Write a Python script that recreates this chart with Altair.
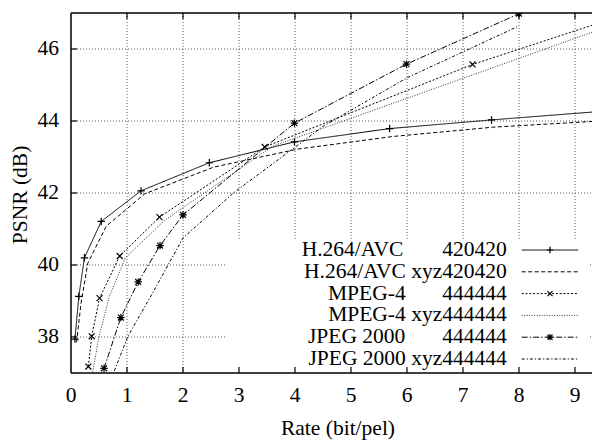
import altair as alt
import pandas as pd

# ---------------- data ----------------
series_names = [
    "H.264/AVC 420420",
    "H.264/AVC xyz420420",
    "MPEG-4 444444",
    "MPEG-4 xyz444444",
    "JPEG 2000 444444",
    "JPEG 2000 xyz444444",
]

h264_rate = [0.07, 0.14, 0.24, 0.54, 1.25, 2.47, 3.99, 5.69, 7.51, 9.9]
h264_psnr = [37.94, 39.13, 40.2, 41.21, 42.06, 42.84, 43.42, 43.79, 44.03, 44.32]

h264x_rate = [0.1, 0.18, 0.3, 0.63, 1.32, 2.55, 4.05, 5.75, 7.55, 9.9]
h264x_psnr = [37.85, 38.95, 40.05, 41.08, 41.98, 42.72, 43.22, 43.57, 43.83, 44.04]

mpeg4_rate = [0.31, 0.37, 0.51, 0.87, 1.58, 3.46, 7.17, 10.5]
mpeg4_psnr = [37.18, 38.02, 39.08, 40.25, 41.33, 43.28, 45.57, 47.27]

mpeg4x_rate = [0.37, 0.5, 0.68, 0.97, 1.68, 3.6, 10.0]
mpeg4x_psnr = [36.9, 38.0, 39.1, 40.2, 41.25, 43.3, 46.85]

jpeg_rate = [0.59, 0.89, 1.2, 1.59, 2.0, 3.99, 5.99, 8.0]
jpeg_psnr = [37.13, 38.54, 39.53, 40.54, 41.39, 43.94, 45.58, 46.98]

jpegx_rate = [0.72, 1.02, 1.46, 2.0, 2.9, 4.5, 6.0, 8.0]
jpegx_psnr = [36.85, 38.03, 39.23, 40.75, 42.0, 43.85, 45.2, 46.64]

x_ticks = [0, 1, 2, 3, 4, 5, 6, 7, 8, 9]
y_ticks = [38, 40, 42, 44, 46]

x_title = "Rate (bit/pel)"
y_title = "PSNR (dB)"

legend_prefix = ["H.264/AVC", "", "MPEG-4", "", "JPEG 2000", ""]
legend_suffix = ["420420", "H.264/AVC xyz420420", "444444", "MPEG-4 xyz444444",
                 "444444", "JPEG 2000 xyz444444"]

# ---------------- layout constants ----------------
W, H = 521, 360
PX_PER_X = 56.0
PX_PER_Y = 36.0
X_MAX = W / PX_PER_X
Y_MIN, Y_MAX = 37, 47
FONT = "Liberation Serif"
FS = 21.5

def px_to_x(px):  # page px -> rate
    return (px - 71.0) / PX_PER_X

def py_to_y(py):  # page py -> psnr
    return Y_MAX - (py - 13.0) / PX_PER_Y

# ---------------- tables ----------------
rows = []
for name, xs, ys in zip(series_names,
                        [h264_rate, h264x_rate, mpeg4_rate, mpeg4x_rate, jpeg_rate, jpegx_rate],
                        [h264_psnr, h264x_psnr, mpeg4_psnr, mpeg4x_psnr, jpeg_psnr, jpegx_psnr]):
    for i, (a, b) in enumerate(zip(xs, ys)):
        rows.append({"series": name, "rate": a, "psnr": b, "order": i})
df = pd.DataFrame(rows)

marker_series = ["H.264/AVC 420420", "MPEG-4 444444", "JPEG 2000 444444"]
plus = "M-1,0L1,0M0,-1L0,1"
cross = "M-0.8,-0.8L0.8,0.8M-0.8,0.8L0.8,-0.8"
star = plus + cross
df_pts = df[df["series"].isin(marker_series)]

prefix_start_px = {"H.264/AVC": 301.7, "MPEG-4": 328.0, "JPEG 2000": 308.0}
leg = pd.DataFrame({
    "series": series_names,
    "prefix": legend_prefix,
    "suffix": legend_suffix,
})
leg["psnr"] = [py_to_y(250 + 21.8 * i) for i in range(len(leg))]
leg["rate_text"] = px_to_x(506.7)
leg["rate_pre"] = [px_to_x(prefix_start_px[p]) if p else 0 for p in legend_prefix]
leg["rate"] = px_to_x(521.7)
leg["rate2"] = px_to_x(578.3)
leg["rate_mid"] = px_to_x(550.0)
leg_pts = leg[leg["series"].isin(marker_series)]
leg_pre = leg[leg["prefix"] != ""]

box = pd.DataFrame({"rate": [px_to_x(225)], "rate2": [px_to_x(589)],
                    "psnr": [Y_MIN], "psnr2": [py_to_y(240)]})

# ---------------- scales / encodings ----------------
xscale = alt.Scale(domain=[0, X_MAX], nice=False, zero=False)
yscale = alt.Scale(domain=[Y_MIN, Y_MAX], nice=False, zero=False)

def X(f="rate"):
    return alt.X(f"{f}:Q", scale=xscale, axis=None)

def Y(f="psnr"):
    return alt.Y(f"{f}:Q", scale=yscale, axis=None)

color = alt.Color("series:N", scale=alt.Scale(
    domain=series_names,
    range=["#000000", "#000000", "#000000", "#333333", "#000000", "#000000"]), legend=None)
dash = alt.StrokeDash("series:N", scale=alt.Scale(
    domain=series_names,
    range=[[1, 0], [4, 2.5], [2, 1.8], [1, 1.5], [6, 2, 1.5, 2], [3, 2, 1.2, 2]]), legend=None)
shape = alt.Shape("series:N", scale=alt.Scale(domain=marker_series,
                                              range=[plus, cross, star]), legend=None)

# dotted grid
gx = pd.DataFrame({"rate": x_ticks[1:]})
gy = pd.DataFrame({"psnr": y_ticks})
grid_x = alt.Chart(gx).mark_rule(color="#555", strokeWidth=1, strokeDash=[1, 2]).encode(
    x=X(), y=alt.value(0), y2=alt.value(H))
grid_y = alt.Chart(gy).mark_rule(color="#555", strokeWidth=1, strokeDash=[1, 2]).encode(
    y=Y(), x=alt.value(0), x2=alt.value(W))

lines = alt.Chart(df).mark_line(clip=True, strokeWidth=1).encode(
    x=X(), y=Y(), color=color, strokeDash=dash, order="order:Q")

points = alt.Chart(df_pts).mark_point(clip=True, filled=False, size=55, strokeWidth=1.2,
                                      color="black", opacity=1).encode(
    x=X(), y=Y(), shape=shape)

box_layer = alt.Chart(box).mark_rect(color="white").encode(
    x=X(), x2="rate2:Q", y=Y(), y2="psnr2:Q")

leg_lines = alt.Chart(leg).mark_rule(strokeWidth=1).encode(
    x=X(), x2="rate2:Q", y=Y(), color=color, strokeDash=dash)
leg_marks = alt.Chart(leg_pts).mark_point(filled=False, size=40, strokeWidth=1.2,
                                          color="black", opacity=1).encode(
    x=X("rate_mid"), y=Y(), shape=shape)
leg_suffix = alt.Chart(leg).mark_text(align="right", baseline="middle", font=FONT,
                                      fontSize=FS, color="black").encode(
    x=X("rate_text"), y=Y(), text="suffix:N")
leg_prefix = alt.Chart(leg_pre).mark_text(align="left", baseline="middle", font=FONT,
                                          fontSize=FS, color="black").encode(
    x=X("rate_pre"), y=Y(), text="prefix:N")

# tick labels and axis titles as text
xt_lab = pd.DataFrame({"rate": x_ticks, "lab": [str(v) for v in x_ticks]})
yt_lab = pd.DataFrame({"psnr": y_ticks, "lab": [str(v) for v in y_ticks]})
x_labels = alt.Chart(xt_lab).mark_text(align="center", baseline="alphabetic", font=FONT,
                                       fontSize=FS, color="black").encode(
    x=X(), y=alt.value(H + 29), text="lab:N")
y_labels = alt.Chart(yt_lab).mark_text(align="right", baseline="middle", font=FONT,
                                       fontSize=FS, color="black").encode(
    y=Y(), x=alt.value(-12), text="lab:N")
one = pd.DataFrame({"a": [0]})
x_title_layer = alt.Chart(one).mark_text(align="center", baseline="alphabetic", font=FONT,
                                         fontSize=FS, color="black", text=x_title).encode(
    x=alt.value(267), y=alt.value(H + 62))
y_title_layer = alt.Chart(one).mark_text(align="center", baseline="middle", font=FONT,
                                         fontSize=FS, color="black", angle=270,
                                         text=y_title).encode(
    x=alt.value(-50), y=alt.value(182))

# inward ticks and border (gnuplot style)
yt = pd.DataFrame({"psnr": y_ticks})
xt = pd.DataFrame({"rate": x_ticks[1:]})
left_ticks = alt.Chart(yt).mark_rule(color="black", strokeWidth=1.2).encode(
    y=Y(), x=alt.value(0), x2=alt.value(6))
top_ticks = alt.Chart(xt).mark_rule(color="black", strokeWidth=1.2).encode(
    x=X(), y=alt.value(0), y2=alt.value(6))
bottom_ticks = alt.Chart(xt).mark_rule(color="black", strokeWidth=1.2).encode(
    x=X(), y=alt.value(H), y2=alt.value(H - 6))

border_left = alt.Chart(one).mark_rule(color="black", strokeWidth=1.5).encode(
    x=alt.value(0), y=alt.value(0), y2=alt.value(H))
border_top = alt.Chart(one).mark_rule(color="black", strokeWidth=1.5).encode(
    x=alt.value(0), x2=alt.value(W), y=alt.value(0))
border_bottom = alt.Chart(one).mark_rule(color="black", strokeWidth=1.5).encode(
    x=alt.value(0), x2=alt.value(W), y=alt.value(H))

chart = alt.layer(
    grid_x, grid_y, box_layer, lines, points, leg_lines, leg_marks, leg_suffix, leg_prefix,
    x_labels, y_labels, x_title_layer, y_title_layer,
    left_ticks, top_ticks, bottom_ticks, border_left, border_top, border_bottom,
).properties(
    width=W, height=H,
    autosize=alt.AutoSizeParams(type="none"),
    padding={"left": 63, "top": 5, "right": 0, "bottom": 67},
    background="white",
).configure_view(stroke=None)

chart.save("out.html", embed_options={"renderer": "svg", "actions": False})
